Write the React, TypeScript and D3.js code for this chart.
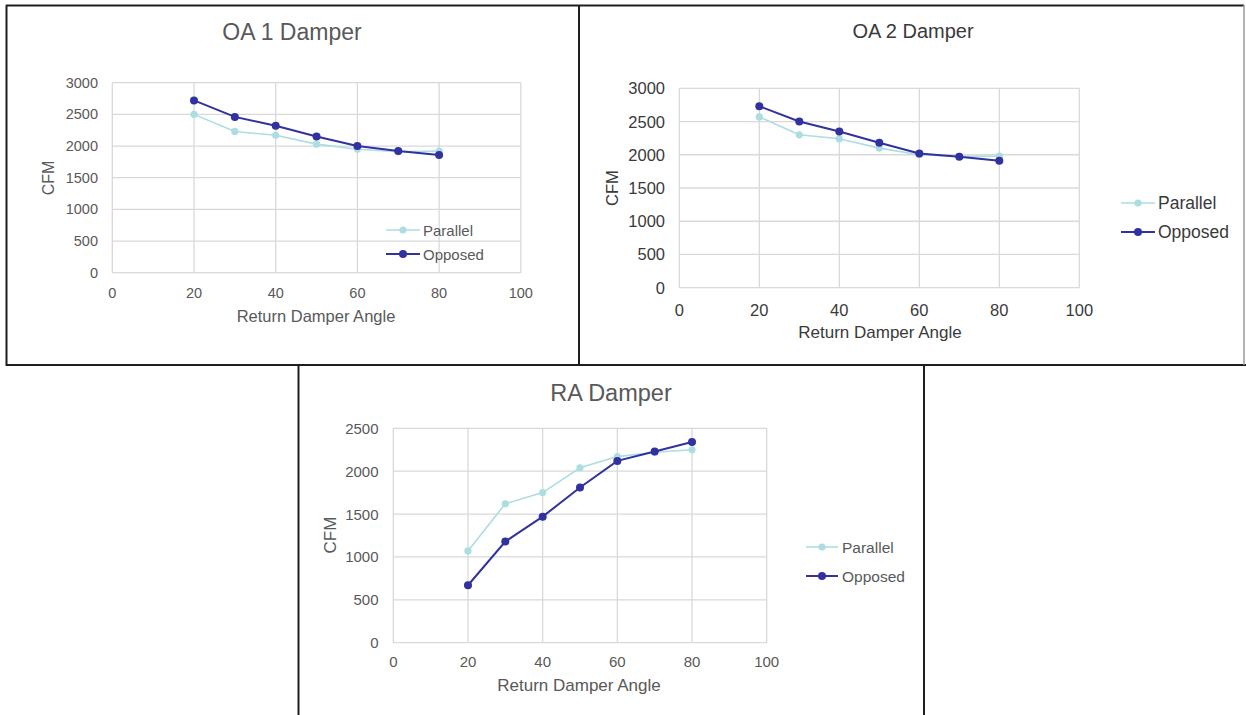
import React from "react";
import { scaleLinear, line } from "d3";

const angles = [20, 30, 40, 50, 60, 70, 80];
const xTicks = [0, 20, 40, 60, 80, 100];
const yTicks3000 = [0, 500, 1000, 1500, 2000, 2500, 3000];
const yTicks2500 = [0, 500, 1000, 1500, 2000, 2500];

const oa1Parallel = [2500, 2230, 2170, 2030, 1950, 1910, 1920];
const oa1Opposed = [2720, 2460, 2320, 2150, 2000, 1920, 1860];
const oa2Parallel = [2570, 2300, 2240, 2100, 2000, 1975, 1980];
const oa2Opposed = [2730, 2500, 2350, 2180, 2020, 1970, 1910];
const raParallel = [1070, 1620, 1750, 2040, 2170, 2220, 2250];
const raOpposed = [670, 1180, 1470, 1810, 2120, 2230, 2340];

const seriesNames = ["Parallel", "Opposed"];
const PARALLEL = "#acdde1";
const OPPOSED = "#3131a0";
const GRID = "#d9d9d9";
const FONT = "'Liberation Sans', Arial, sans-serif";

interface ChartProps {
  box: { x0: number; y0: number; x1: number; y1: number };
  plot: { left: number; top: number; right: number; bottom: number };
  yTicks: number[];
  parallel: number[];
  opposed: number[];
  title: { text: string; x: number; y: number; size: number };
  textColor: string;
  tickSize: number;
  yTickRight: number;
  xTickBaseline: number;
  xTitle: { x: number; y: number; size: number };
  yTitle: { x: number; y: number; size: number };
  legend: { x0: number; x1: number; tx: number; y: number[]; size: number };
}

function Chart(p: ChartProps) {
  const x = scaleLinear().domain([0, 100]).range([p.plot.left, p.plot.right]);
  const y = scaleLinear()
    .domain([0, p.yTicks[p.yTicks.length - 1]])
    .range([p.plot.bottom, p.plot.top]);
  const path = line<number>()
    .x((_, i) => x(angles[i]))
    .y((d) => y(d));
  const colors = [PARALLEL, OPPOSED];
  const data = [p.parallel, p.opposed];

  return (
    <g fontFamily={FONT}>
      {/* grid */}
      {p.yTicks.map((t) => (
        <line
          key={`h${t}`}
          x1={p.plot.left}
          x2={p.plot.right}
          y1={y(t)}
          y2={y(t)}
          stroke={GRID}
          strokeWidth={1.3}
        />
      ))}
      {xTicks.map((t) => (
        <line
          key={`v${t}`}
          x1={x(t)}
          x2={x(t)}
          y1={p.plot.top}
          y2={p.plot.bottom}
          stroke={GRID}
          strokeWidth={1.3}
        />
      ))}
      {/* tick labels */}
      {p.yTicks.map((t) => (
        <text
          key={`yl${t}`}
          x={p.yTickRight}
          y={y(t)}
          textAnchor="end"
          dominantBaseline="central"
          fontSize={p.tickSize}
          fill={p.textColor}
        >
          {t}
        </text>
      ))}
      {xTicks.map((t) => (
        <text
          key={`xl${t}`}
          x={x(t)}
          y={p.xTickBaseline}
          textAnchor="middle"
          fontSize={p.tickSize}
          fill={p.textColor}
        >
          {t}
        </text>
      ))}
      {/* series */}
      {data.map((vals, si) => (
        <g key={seriesNames[si]}>
          <path
            d={path(vals) || ""}
            fill="none"
            stroke={colors[si]}
            strokeWidth={si === 1 ? 2 : 1.6}
          />
          {vals.map((v, i) => (
            <circle
              key={i}
              cx={x(angles[i])}
              cy={y(v)}
              r={si === 1 ? 4 : 3.6}
              fill={colors[si]}
            />
          ))}
        </g>
      ))}
      {/* titles */}
      <text
        x={p.title.x}
        y={p.title.y}
        textAnchor="middle"
        fontSize={p.title.size}
        fill={p.textColor}
      >
        {p.title.text}
      </text>
      <text
        x={p.xTitle.x}
        y={p.xTitle.y}
        textAnchor="middle"
        fontSize={p.xTitle.size}
        fill={p.textColor}
      >
        Return Damper Angle
      </text>
      <text
        transform={`translate(${p.yTitle.x},${p.yTitle.y}) rotate(-90)`}
        textAnchor="middle"
        dominantBaseline="central"
        fontSize={p.yTitle.size}
        fill={p.textColor}
      >
        CFM
      </text>
      {/* legend */}
      {seriesNames.map((name, si) => (
        <g key={`lg${name}`}>
          <line
            x1={p.legend.x0}
            x2={p.legend.x1}
            y1={p.legend.y[si]}
            y2={p.legend.y[si]}
            stroke={colors[si]}
            strokeWidth={si === 1 ? 2 : 1.6}
          />
          <circle
            cx={(p.legend.x0 + p.legend.x1) / 2}
            cy={p.legend.y[si]}
            r={si === 1 ? 4 : 3.6}
            fill={colors[si]}
          />
          <text
            x={p.legend.tx}
            y={p.legend.y[si]}
            dominantBaseline="central"
            fontSize={p.legend.size}
            fill={p.textColor}
          >
            {name}
          </text>
        </g>
      ))}
    </g>
  );
}

export default function App() {
  return (
    <svg
      width={1246}
      height={715}
      style={{ position: "absolute", left: 0, top: 0, background: "#fff" }}
    >
      <rect x={0} y={0} width={1246} height={715} fill="#fff" />
      <Chart
        box={{ x0: 6, y0: 5, x1: 579, y1: 365 }}
        plot={{ left: 112.3, top: 82.7, right: 520.8, bottom: 272.7 }}
        yTicks={yTicks3000}
        parallel={oa1Parallel}
        opposed={oa1Opposed}
        title={{ text: "OA 1 Damper", x: 292, y: 40, size: 23 }}
        textColor="#595959"
        tickSize={14.5}
        yTickRight={98}
        xTickBaseline={298}
        xTitle={{ x: 316, y: 322, size: 16.5 }}
        yTitle={{ x: 48, y: 178, size: 16 }}
        legend={{ x0: 386, x1: 420, tx: 423, y: [230, 254], size: 15 }}
      />
      <Chart
        box={{ x0: 579, y0: 5, x1: 1244, y1: 365 }}
        plot={{ left: 679.3, top: 88.3, right: 1079.3, bottom: 287.7 }}
        yTicks={yTicks3000}
        parallel={oa2Parallel}
        opposed={oa2Opposed}
        title={{ text: "OA 2 Damper", x: 913, y: 38, size: 20 }}
        textColor="#3a3a3a"
        tickSize={16.5}
        yTickRight={665}
        xTickBaseline={316}
        xTitle={{ x: 880, y: 338, size: 17 }}
        yTitle={{ x: 612, y: 188, size: 16.5 }}
        legend={{ x0: 1121, x1: 1155, tx: 1158, y: [203, 232], size: 17.5 }}
      />
      <Chart
        box={{ x0: 298, y0: 365, x1: 924, y1: 715 }}
        plot={{ left: 393.3, top: 428.3, right: 766.7, bottom: 642.7 }}
        yTicks={yTicks2500}
        parallel={raParallel}
        opposed={raOpposed}
        title={{ text: "RA Damper", x: 611, y: 401, size: 23.5 }}
        textColor="#595959"
        tickSize={15}
        yTickRight={378.5}
        xTickBaseline={667}
        xTitle={{ x: 579, y: 691, size: 17 }}
        yTitle={{ x: 330, y: 535, size: 17 }}
        legend={{ x0: 806, x1: 838, tx: 842, y: [547, 576], size: 15.5 }}
      />
      {/* frame lines */}
      <g stroke="#1e1e1e" strokeWidth={2} fill="none">
        <line x1={6} x2={1244} y1={5.5} y2={5.5} />
        <line x1={6.5} x2={6.5} y1={5} y2={366} />
        <line x1={579} x2={579} y1={5} y2={366} />
        <line x1={6} x2={1246} y1={365} y2={365} />
        <line x1={298.5} x2={298.5} y1={365} y2={715} />
        <line x1={924} x2={924} y1={365} y2={715} />
      </g>
      <line x1={1244} x2={1244} y1={5} y2={365} stroke="#9a9a9a" strokeWidth={1.5} />
    </svg>
  );
}
